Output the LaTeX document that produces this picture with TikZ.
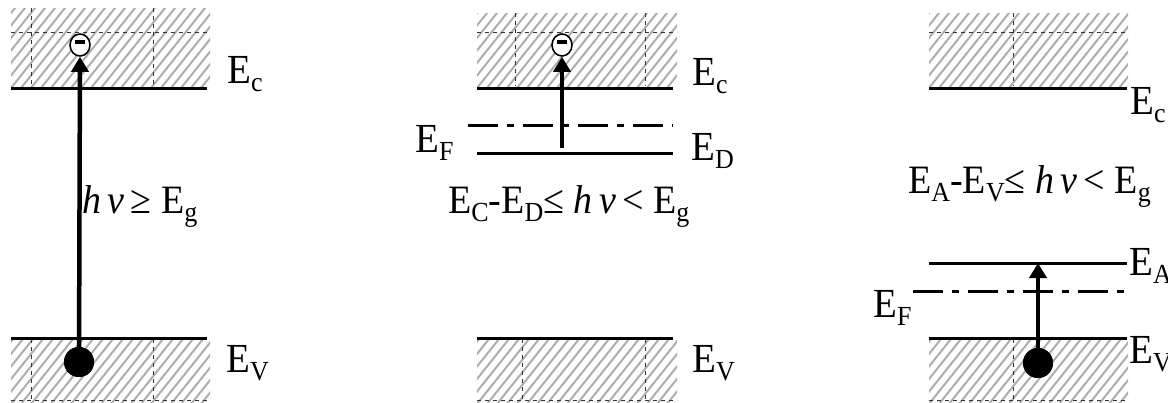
\documentclass[tikz,border=0pt]{standalone}
\usepackage{fontspec}
\setmainfont{Liberation Serif}
\usetikzlibrary{arrows.meta,shapes.geometric}
\newcommand\sbs[1]{\raisebox{-0.2em}{\fontsize{26}{26}\selectfont #1}}
\newcommand\tall[1]{\scalebox{1}[1.06]{#1}}
\newcommand\hatchband[4]{%
  \begin{scope}
    \clip (#1,#2) rectangle (#3,#4);
    \foreach \k in {-12,...,24} \draw[hatchline] ({#1+\k*10},#4+2) -- ++(80,-100);
  \end{scope}}
\tikzset{
  hatchline/.style={draw=black!32, line width=2pt},
  gridline/.style={draw=black!80, line width=0.6pt, dash pattern=on 4pt off 4pt},
  level/.style={line width=3pt},
  fermi/.style={line width=3pt, dash pattern=on 30pt off 9pt on 7pt off 9pt},
  photon/.style={line width=4.5pt, -{Triangle[width=17pt,length=15pt]}},
  hole/.style={circle, fill=black, minimum size=30pt, inner sep=0pt},
  electron/.style={ellipse, draw, line width=1.6pt, fill=white, minimum width=20pt, minimum height=22pt, inner sep=0pt},
  lbl/.style={anchor=base west, inner sep=0pt, font=\fontsize{39}{39}\selectfont},
  frm/.style={anchor=base west, inner sep=0pt, font=\fontsize{38}{38}\selectfont},
}
\begin{document}
\begin{tikzpicture}[x=1pt,y=-1pt]
\useasboundingbox (0,0) rectangle (1168,402);
% ---------- hatched bands ----------
\hatchband{11}{8}{210}{86}
\hatchband{11}{339}{210}{402}
\hatchband{477}{13}{677}{86}
\hatchband{477}{339}{677}{402}
\hatchband{929}{13}{1128}{86}
\hatchband{929}{339}{1128}{402}
% grid remnants
\draw[gridline] (11,32) -- (210,32);
\draw[gridline] (31,8) -- (31,86) (153,8) -- (153,86);
\draw[gridline] (31,339) -- (31,402) (153,339) -- (153,402);
\draw[gridline] (11,400) -- (210,400);
\draw[gridline] (477,32) -- (677,32);
\draw[gridline] (515,13) -- (515,86) (645,13) -- (645,86);
\draw[gridline] (522,339) -- (522,402) (645,339) -- (645,402);
\draw[gridline] (477,400) -- (677,400);
\draw[gridline] (929,32) -- (1128,32);
\draw[gridline] (1013,13) -- (1013,86);
\draw[gridline] (1013,339) -- (1013,402);
\draw[gridline] (929,400) -- (1128,400);
% ---------- panel 1 ----------
\coordinate (c1l) at (11,88); \coordinate (c1r) at (207,88);
\coordinate (v1l) at (11,338); \coordinate (v1r) at (207,338);
\draw[level] (c1l) -- (c1r);
\draw[level] (v1l) -- (v1r);
\node[electron] (e1) at (80,45) {};
\draw[line width=4pt] ([xshift=-5pt,yshift=3pt]e1.center) -- ([xshift=5pt,yshift=3pt]e1.center);
\node[hole] (h1) at (79,362) {};
\draw[photon] (h1.center) -- (e1.south);
\node[hole] at (h1) {};
\node[lbl] (lc1) at (227,83) {\tall{E\sbs{c}}};
\node[lbl] (lv1) at (226,372) {\tall{E\sbs{V}}};
\node[frm] (f1) at (82,213) {\tall{\textit{h\,ν}\,≥ E\sbs{g}}};
% ---------- panel 2 ----------
\coordinate (c2l) at (477,88); \coordinate (c2r) at (673,88);
\coordinate (d2l) at (477,153); \coordinate (d2r) at (673,153);
\coordinate (f2l) at (468,125); \coordinate (f2r) at (673,125);
\coordinate (v2l) at (477,338); \coordinate (v2r) at (673,338);
\draw[level] (c2l) -- (c2r);
\draw[level] (d2l) -- (d2r);
\draw[fermi] (f2l) -- (f2r);
\draw[level] (v2l) -- (v2r);
\node[electron] (e2) at (562,45) {};
\draw[line width=4pt] ([xshift=-5pt,yshift=3pt]e2.center) -- ([xshift=5pt,yshift=3pt]e2.center);
\coordinate (s2) at (562,148);
\draw[photon] (s2) -- (e2.south);
\node[lbl] (lc2) at (692,85) {\tall{E\sbs{c}}};
\node[lbl] (lf2) at (415,152) {\tall{E\sbs{F}}};
\node[lbl] (ld2) at (691,160) {\tall{E\sbs{D}}};
\node[lbl] (lv2) at (692,372) {\tall{E\sbs{V}}};
\node[frm] (fm2) at (448,213) {\tall{E\sbs{C}-E\sbs{D}≤ \textit{h\,ν}\,< E\sbs{g}}};
% ---------- panel 3 ----------
\coordinate (c3l) at (929,88); \coordinate (c3r) at (1127,88);
\coordinate (a3l) at (929,263); \coordinate (a3r) at (1127,263);
\coordinate (f3l) at (913,291); \coordinate (f3r) at (1127,291);
\coordinate (v3l) at (929,338); \coordinate (v3r) at (1127,338);
\draw[level] (c3l) -- (c3r);
\draw[level] (a3l) -- (a3r);
\draw[fermi] (f3l) -- (f3r);
\draw[level] (v3l) -- (v3r);
\node[hole] (h3) at (1038,363) {};
\coordinate (t3) at (1038,263);
\draw[photon] (h3.center) -- (t3);
\node[hole] at (h3) {};
\node[lbl] (lc3) at (1130,114) {\tall{E\sbs{c}}};
\node[lbl] (la3) at (1129,275) {\tall{E\sbs{A}}};
\node[lbl] (lf3) at (873,317) {\tall{E\sbs{F}}};
\node[lbl] (lv3) at (1129,363) {\tall{E\sbs{V}}};
\node[frm] (fm3) at (908,193) {\tall{E\sbs{A}-E\sbs{V}≤ \textit{h\,ν}\,< E\sbs{g}}};
\end{tikzpicture}
\end{document}
